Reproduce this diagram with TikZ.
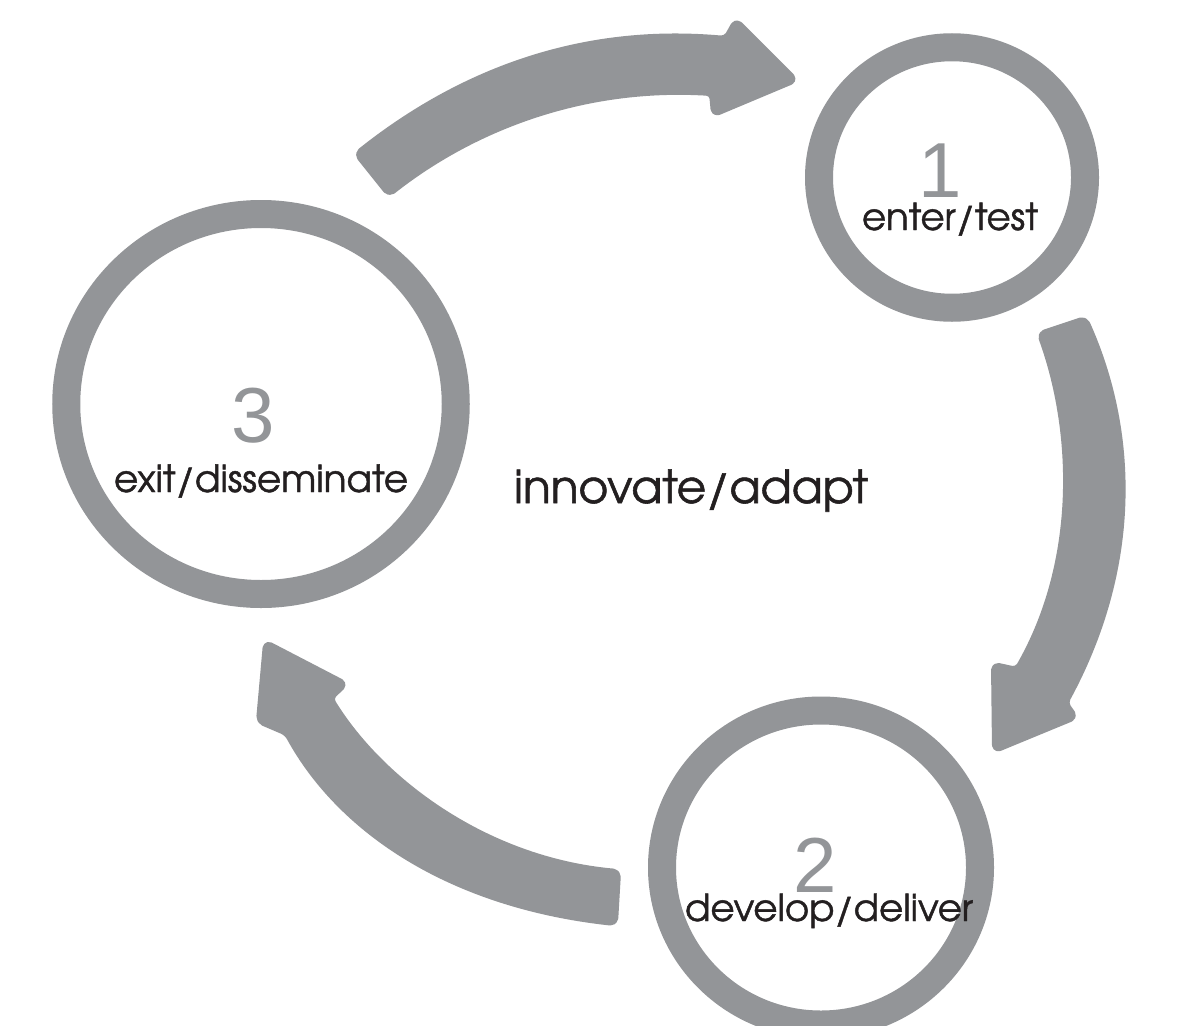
\documentclass[tikz,border=0pt]{standalone}
\usepackage{graphicx}
\usepackage{fontspec}
\newfontfamily\adv[FakeBold=1.2]{TeX Gyre Adventor}
\newfontfamily\digitfont{Liberation Sans}
\definecolor{ringgray}{HTML}{939598}
\definecolor{inkc}{HTML}{231F20}
\begin{document}
\begin{tikzpicture}[x=1pt,y=-1pt,
  ring/.style={draw=ringgray, line width=28pt},
  blockarrow/.style={fill=ringgray, draw=ringgray, line width=6pt, line join=round, rounded corners=5pt},
  num/.style={text=ringgray, font=\digitfont\fontsize{78}{78}\selectfont, anchor=base, inner sep=0pt},
  lbl/.style={text=inkc, anchor=base, inner sep=0pt}]
\useasboundingbox (0,0) rectangle (1185,1025);
\clip (0,0) rectangle (1185,1025);
\fill[white] (0,0) rectangle (1185,1025);
% rings
\draw[ring] (952,177.5) ellipse [x radius=133, y radius=130.25];
\draw[ring] (261,404) ellipse [x radius=194.75, y radius=190];
\draw[ring] (821,867.5) ellipse [x radius=159, y radius=157];
% top arrow (3 -> 1)
\filldraw[blockarrow] (357,154) .. controls (450,80) and (570,25) .. (726,39)
  -- (736,21) -- (795,80) -- (714,114) -- (712,93)
  .. controls (580,85) and (470,130) .. (389,194) -- cycle;
% right arrow (1 -> 2)
\filldraw[blockarrow] (1085,319) .. controls (1135,430) and (1140,565) .. (1065,703)
  -- (1075,717) -- (995,750) -- (994,665) -- (1017,670)
  .. controls (1080,560) and (1075,430) .. (1040,334) -- cycle;
% bottom-left arrow (2 -> 3)
\filldraw[blockarrow] (618,872) .. controls (485,860) and (380,780) .. (330,698)
  -- (345,684) -- (266,643) -- (259,721) -- (287,733)
  .. controls (340,830) and (450,905) .. (615,923) -- cycle;
% labels
\node[num] (n1) at (940,197) {1};
\node[lbl] (t1) at (950,230) {\resizebox{176pt}{!}{\adv enter/test}};
\node[num] (n3) at (253,442) {3};
\node[lbl] (t3) at (261,492) {\resizebox{294pt}{!}{\adv exit/disseminate}};
\node[num] (n2) at (815,892) {2};
\node[lbl] (t2) at (829,921) {\resizebox{288pt}{!}{\adv develop/deliver}};
\node[lbl] (tc) at (691,503) {\resizebox{354pt}{!}{\adv innovate/adapt}};
\end{tikzpicture}
\end{document}
